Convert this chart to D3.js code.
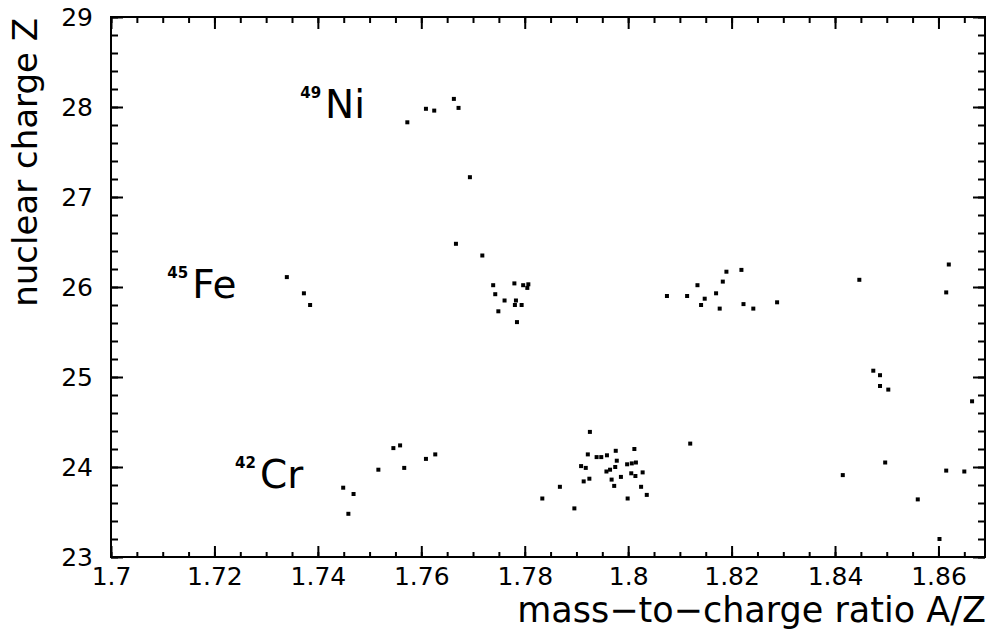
<!DOCTYPE html>
<html>
<head>
<meta charset="utf-8">
<script src="https://cdn.jsdelivr.net/npm/d3@7"></script>
<style>
  body { margin: 0; background: #fff; }
  svg { display: block; font-family: "DejaVu Sans", sans-serif; }
</style>
</head>
<body>
<div id="plot"></div>
<script>
// A/Z and Z of each identified ion, grouped by element band
var niA = [1.7573, 1.7609, 1.7625, 1.7663, 1.7672, 1.7694];
var niZ = [27.83, 27.98, 27.96, 28.09, 27.99, 27.22];

var feA = [1.7340, 1.7373, 1.7385, 1.7667, 1.7718, 1.7739, 1.7780, 1.7797, 1.7807, 1.7805,
           1.7743, 1.7761, 1.7783, 1.7781, 1.7794, 1.7749, 1.7785,
           1.8075, 1.8114, 1.8134, 1.8148, 1.8141, 1.8170, 1.8177, 1.8183, 1.8190,
           1.8219, 1.8223, 1.8242, 1.8288, 1.8447, 1.8620, 1.8615];
var feZ = [26.11, 25.93, 25.80, 26.48, 26.35, 26.02, 26.04, 26.02, 26.03, 25.99,
           25.92, 25.85, 25.85, 25.80, 25.80, 25.73, 25.61,
           25.90, 25.90, 26.02, 25.87, 25.80, 25.93, 25.76, 26.06, 26.17,
           26.19, 25.81, 25.76, 25.83, 26.08, 26.25, 25.94];

var mnA = [1.8474, 1.8487, 1.8487, 1.8503, 1.8665];
var mnZ = [25.07, 25.02, 24.90, 24.86, 24.73];

var crA = [1.7449, 1.7469, 1.7459, 1.7517, 1.7546, 1.7559, 1.7567, 1.7609, 1.7627,
           1.7834, 1.7868, 1.7896, 1.7926, 1.7922, 1.7939, 1.7948, 1.7959, 1.7976, 1.8012,
           1.7909, 1.7918, 1.7978, 1.7975, 1.7965, 1.7958, 1.7998, 1.8007, 1.8015,
           1.7986, 1.8006, 1.8014, 1.8028, 1.7914, 1.7925, 1.7968, 1.7973, 1.8025,
           1.8036, 1.7999, 1.8120, 1.8415, 1.8497, 1.8560, 1.8615, 1.8650, 1.8602];
var crZ = [23.77, 23.70, 23.48, 23.97, 24.21, 24.24, 23.99, 24.09, 24.14,
           23.65, 23.78, 23.54, 24.39, 24.14, 24.11, 24.11, 24.13, 24.18, 24.20,
           24.01, 23.99, 24.07, 24.00, 23.97, 23.95, 24.03, 24.04, 24.05,
           23.89, 23.93, 23.90, 23.94, 23.84, 23.87, 23.86, 23.79, 23.78,
           23.69, 23.65, 24.26, 23.91, 24.05, 23.64, 23.96, 23.95, 23.20];

var xTicks = [1.7, 1.72, 1.74, 1.76, 1.78, 1.8, 1.82, 1.84, 1.86];
var yTicks = [23, 24, 25, 26, 27, 28, 29];

// isotope annotations: mass number, element, anchor in data units
var isoMass = ["49", "45", "42"];
var isoElem = ["Ni", "Fe", "Cr"];
var isoA = [1.7414, 1.7157, 1.7288];
var isoZ = [27.878, 25.878, 23.767];

function drawChart() {
    var width = 989, height = 635;
    var left = 111, right = 985, top = 17, bottom = 557;

    var svg = d3.select("#plot").append("svg")
        .attr("width", width)
        .attr("height", height);

    var x = d3.scaleLinear().domain([1.7, 1.869]).range([left, right]);
    var y = d3.scaleLinear().domain([23, 29]).range([bottom, top]);

    var fmt = d => String(+d.toFixed(2));
    var xMinor = d3.range(1.7, 1.869, 0.005);
    var yMinor = d3.range(23, 29.001, 0.2);

    // major + minor ticks on all four sides, pointing inward
    svg.append("g").attr("transform", `translate(0,${bottom})`)
        .call(d3.axisBottom(x).tickValues(xMinor).tickFormat("").tickSize(-5).tickSizeOuter(0));
    svg.append("g").attr("class", "lab").attr("transform", `translate(0,${bottom})`)
        .call(d3.axisBottom(x).tickValues(xTicks).tickFormat(fmt).tickSize(-11).tickSizeOuter(0).tickPadding(10));
    svg.append("g").attr("transform", `translate(0,${top})`)
        .call(d3.axisTop(x).tickValues(xMinor).tickFormat("").tickSize(-6).tickSizeOuter(0));
    svg.append("g").attr("transform", `translate(0,${top})`)
        .call(d3.axisTop(x).tickValues(xTicks).tickFormat("").tickSize(-12).tickSizeOuter(0));

    svg.append("g").attr("transform", `translate(${left},0)`)
        .call(d3.axisLeft(y).tickValues(yMinor).tickFormat("").tickSize(-7).tickSizeOuter(0));
    svg.append("g").attr("class", "lab").attr("transform", `translate(${left},0)`)
        .call(d3.axisLeft(y).tickValues(yTicks).tickFormat(d3.format("d")).tickSize(-12).tickSizeOuter(0).tickPadding(18));
    svg.append("g").attr("transform", `translate(${right},0)`)
        .call(d3.axisRight(y).tickValues(yMinor).tickFormat("").tickSize(-7).tickSizeOuter(0));
    svg.append("g").attr("transform", `translate(${right},0)`)
        .call(d3.axisRight(y).tickValues(yTicks).tickFormat("").tickSize(-12).tickSizeOuter(0));

    svg.selectAll(".domain").remove();
    svg.selectAll(".tick line").attr("stroke", "#000").attr("stroke-width", 2);
    svg.selectAll(".lab text")
        .attr("fill", "#000")
        .style("font-family", "DejaVu Sans")
        .style("font-size", "25px");

    // frame
    svg.append("rect")
        .attr("x", left).attr("y", top)
        .attr("width", right - left).attr("height", bottom - top)
        .attr("fill", "none").attr("stroke", "#000").attr("stroke-width", 2);

    // events
    var groups = [[niA, niZ], [feA, feZ], [mnA, mnZ], [crA, crZ]];
    var pts = [];
    groups.forEach(g => g[0].forEach((a, i) => pts.push({a: a, z: g[1][i]})));

    svg.append("g").selectAll("rect")
        .data(pts)
        .enter().append("rect")
        .attr("x", d => x(d.a) - 2)
        .attr("y", d => y(d.z) - 2)
        .attr("width", 4)
        .attr("height", 4)
        .attr("fill", "#000");

    // isotope labels
    var labs = svg.append("g").selectAll("g")
        .data(isoElem.map((e, i) => ({m: isoMass[i], e: e, a: isoA[i], z: isoZ[i]})))
        .enter().append("g")
        .attr("transform", d => `translate(${x(d.a)},${y(d.z)})`);
    labs.append("text")
        .attr("x", -4).attr("y", -20)
        .attr("text-anchor", "end")
        .style("font-size", "15px")
        .style("font-weight", "bold")
        .text(d => d.m);
    labs.append("text")
        .style("font-size", "39px")
        .text(d => d.e);

    // axis titles
    svg.append("text")
        .attr("x", 986).attr("y", 622)
        .attr("text-anchor", "end")
        .style("font-size", "35px")
        .text("mass\u2212to\u2212charge ratio A/Z");

    svg.append("text")
        .attr("transform", "translate(37,18) rotate(-90)")
        .attr("text-anchor", "end")
        .style("font-size", "34px")
        .text("nuclear charge Z");
}

window.onload = drawChart;
</script>
</body>
</html>
